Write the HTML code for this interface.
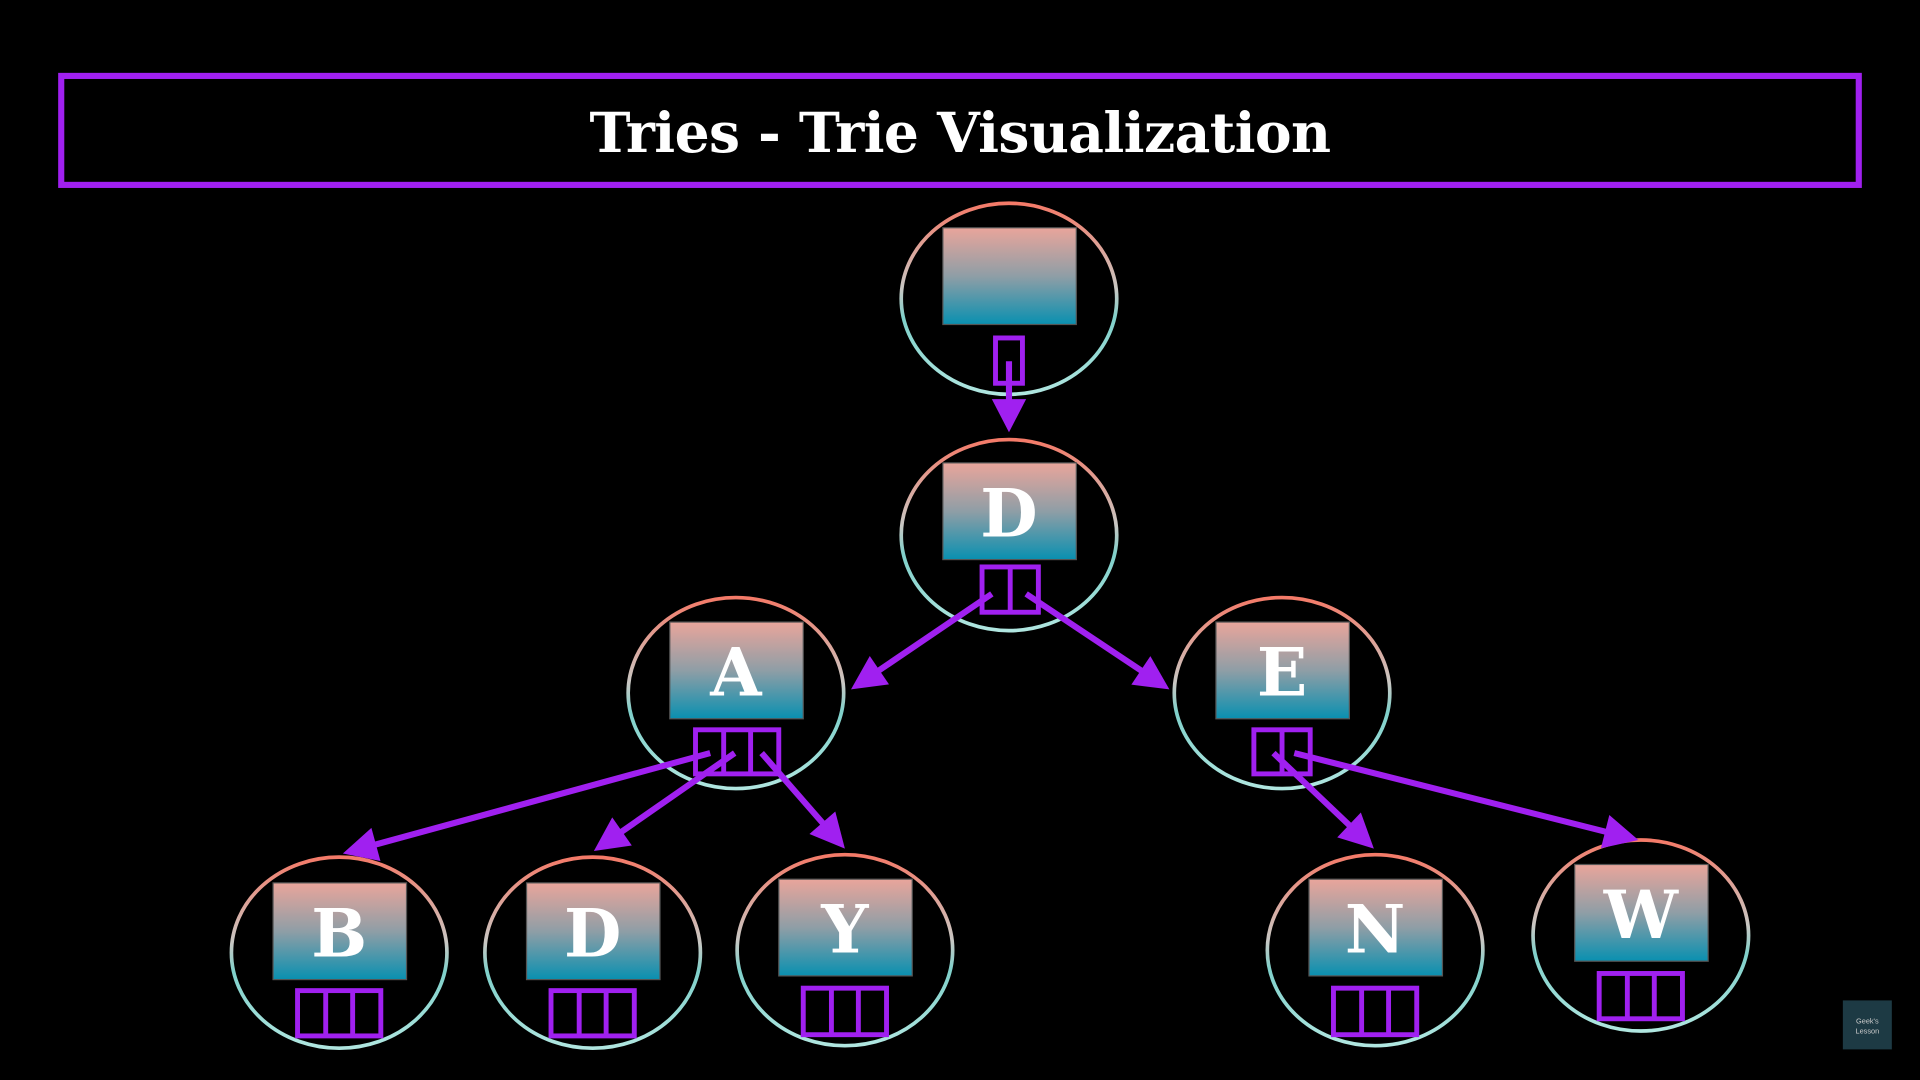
<!DOCTYPE html>
<html><head><meta charset="utf-8"><style>
html,body{margin:0;padding:0;background:#000;}
svg{display:block}
</style></head><body>
<svg width="1920" height="1080" viewBox="0 0 1568 882" xmlns="http://www.w3.org/2000/svg">
<defs>
<linearGradient id="rg" x1="0" y1="0" x2="0" y2="1">
<stop offset="0" stop-color="#e9a59b"/><stop offset="0.5" stop-color="#8f9ea6"/><stop offset="1" stop-color="#0990b0"/>
</linearGradient>
<linearGradient id="eg" x1="0" y1="0" x2="0" y2="1">
<stop offset="0" stop-color="#f47a68"/><stop offset="0.45" stop-color="#c8c8c4"/><stop offset="0.6" stop-color="#7fd0ca"/><stop offset="1" stop-color="#b0e6e0"/>
</linearGradient>
</defs>
<rect width="1568" height="882" fill="#000"/>
<rect x="50" y="62" width="1468" height="89" fill="none" stroke="#a020f0" stroke-width="5"/>
<text x="784" y="124" text-anchor="middle" font-family="DejaVu Serif, Liberation Serif, serif" font-weight="bold" font-size="45" letter-spacing="-0.5" fill="#fff">Tries - Trie Visualization</text>

<g fill="none" stroke="url(#eg)" stroke-width="3">
<ellipse cx="824" cy="244" rx="88" ry="78"/>
<ellipse cx="824" cy="437" rx="88" ry="78"/>
<ellipse cx="601" cy="566" rx="88" ry="78"/>
<ellipse cx="1047" cy="566" rx="88" ry="78"/>
<ellipse cx="277" cy="778" rx="88" ry="78"/>
<ellipse cx="484" cy="778" rx="88" ry="78"/>
<ellipse cx="690" cy="776" rx="88" ry="78"/>
<ellipse cx="1123" cy="776" rx="88" ry="78"/>
<ellipse cx="1340" cy="764" rx="88" ry="78"/>
</g>
<g fill="url(#rg)" stroke="#555" stroke-width="1">
<rect x="770" y="186" width="109" height="79"/>
<rect x="770" y="378" width="109" height="79"/>
<rect x="547" y="508" width="109" height="79"/>
<rect x="993" y="508" width="109" height="79"/>
<rect x="223" y="721" width="109" height="79"/>
<rect x="430" y="721" width="109" height="79"/>
<rect x="636" y="718" width="109" height="79"/>
<rect x="1069" y="718" width="109" height="79"/>
<rect x="1286" y="706" width="109" height="79"/>
</g>
<g font-family="DejaVu Serif, Liberation Serif, serif" font-weight="bold" font-size="54" fill="#fff" text-anchor="middle">
<text x="824" y="438">D</text>
<text x="601" y="568">A</text>
<text x="1047" y="568">E</text>
<text x="277" y="781">B</text>
<text x="484" y="781">D</text>
<text x="690" y="778">Y</text>
<text x="1123" y="778">N</text>
<text x="1340" y="766">W</text>
</g>
<g fill="none" stroke="#a020f0" stroke-width="4">
<rect x="813" y="276" width="22" height="37"/>
<rect x="802" y="463" width="46" height="37"/><line x1="825" y1="463" x2="825" y2="500"/>
<rect x="568" y="596" width="68" height="36"/><line x1="591" y1="596" x2="591" y2="632"/><line x1="613" y1="596" x2="613" y2="632"/>
<rect x="1024" y="596" width="46" height="36"/><line x1="1047" y1="596" x2="1047" y2="632"/>
<rect x="243" y="809" width="68" height="37"/><line x1="266" y1="809" x2="266" y2="846"/><line x1="288" y1="809" x2="288" y2="846"/>
<rect x="450" y="809" width="68" height="37"/><line x1="473" y1="809" x2="473" y2="846"/><line x1="495" y1="809" x2="495" y2="846"/>
<rect x="656" y="807" width="68" height="38"/><line x1="679" y1="807" x2="679" y2="845"/><line x1="701" y1="807" x2="701" y2="845"/>
<rect x="1089" y="807" width="68" height="38"/><line x1="1112" y1="807" x2="1112" y2="845"/><line x1="1134" y1="807" x2="1134" y2="845"/>
<rect x="1306" y="795" width="68" height="37"/><line x1="1329" y1="795" x2="1329" y2="832"/><line x1="1351" y1="795" x2="1351" y2="832"/>
</g>
<g stroke="#a020f0" stroke-width="5" fill="#a020f0">
<line x1="824" y1="295" x2="824" y2="330"/><polygon points="810,326 838,326 824,353" stroke="none"/>
</g>
<g id="arrows" stroke="#a020f0" stroke-width="5"></g>
<script>
var arrows=[[810,485,695,563],[838,485,955,563],[580,615,280,697],[600,615,485,695],[622,615,690,693],[1040,615,1122,693],[1057,615,1338,686]];
var g=document.getElementById('arrows');var ns='http://www.w3.org/2000/svg';
arrows.forEach(function(a){var dx=a[2]-a[0],dy=a[3]-a[1],L=Math.hypot(dx,dy),ux=dx/L,uy=dy/L,h=28,w=14;
var bx=a[2]-ux*h,by=a[3]-uy*h;
var l=document.createElementNS(ns,'line');l.setAttribute('x1',a[0]);l.setAttribute('y1',a[1]);l.setAttribute('x2',bx+ux*4);l.setAttribute('y2',by+uy*4);g.appendChild(l);
var p=document.createElementNS(ns,'polygon');p.setAttribute('fill','#a020f0');p.setAttribute('stroke','none');
p.setAttribute('points',a[2]+','+a[3]+' '+(bx-uy*w)+','+(by+ux*w)+' '+(bx+uy*w)+','+(by-ux*w));g.appendChild(p);});
</script>
<rect x="1505" y="817" width="40" height="40" fill="#1d3a44"/>
<text x="1525" y="836" font-family="Liberation Sans, sans-serif" font-size="6" fill="#ccc" text-anchor="middle">Geek's</text>
<text x="1525" y="844" font-family="Liberation Sans, sans-serif" font-size="6" fill="#ccc" text-anchor="middle">Lesson</text>
</svg>
</body></html>
